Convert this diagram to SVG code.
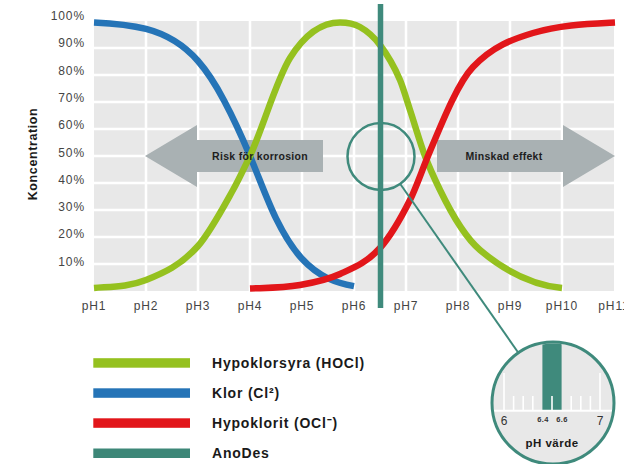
<svg xmlns="http://www.w3.org/2000/svg" width="624" height="464" viewBox="0 0 624 464">
<defs>
<style>
.grid line{stroke:#fff;stroke-width:2.5}
.ax{font-family:"Liberation Sans",Arial,sans-serif;font-size:12px;fill:#444;letter-spacing:0.9px}
.yl{text-anchor:end}
.xl{text-anchor:middle}
.curve{fill:none;stroke-width:6.5;stroke-linecap:butt;stroke-linejoin:round}
.arrow{fill:#a9b1b3}
.atxt{font-family:"Liberation Sans",Arial,sans-serif;font-weight:bold;font-size:10.5px;fill:#1e1e1e;text-anchor:middle;letter-spacing:0.3px}
.leg{font-family:"Liberation Sans",Arial,sans-serif;font-weight:bold;font-size:14px;fill:#1a1a1a;letter-spacing:0.8px}
.tick{stroke:#fff;stroke-width:1.6}
</style>
<clipPath id="lens"><circle cx="553" cy="403" r="59.5"/></clipPath>
</defs>

<g id="plot-background">
<rect x="94" y="21" width="520" height="270" fill="#e8e8e8"/>
<g class="grid">
<line x1="146" y1="21" x2="146" y2="291"/><line x1="198" y1="21" x2="198" y2="291"/><line x1="250" y1="21" x2="250" y2="291"/>
<line x1="302" y1="21" x2="302" y2="291"/><line x1="354" y1="21" x2="354" y2="291"/><line x1="406" y1="21" x2="406" y2="291"/>
<line x1="458" y1="21" x2="458" y2="291"/><line x1="510" y1="21" x2="510" y2="291"/><line x1="562" y1="21" x2="562" y2="291"/>
<line x1="94" y1="48" x2="614" y2="48"/><line x1="94" y1="75" x2="614" y2="75"/><line x1="94" y1="102" x2="614" y2="102"/>
<line x1="94" y1="129" x2="614" y2="129"/><line x1="94" y1="156" x2="614" y2="156"/><line x1="94" y1="183" x2="614" y2="183"/>
<line x1="94" y1="210" x2="614" y2="210"/><line x1="94" y1="237" x2="614" y2="237"/><line x1="94" y1="264" x2="614" y2="264"/>
</g>
</g>

<g id="y-axis" class="ax yl">
<text x="85" y="20">100%</text><text x="85" y="47.3">90%</text><text x="85" y="74.6">80%</text>
<text x="85" y="101.9">70%</text><text x="85" y="129.2">60%</text><text x="85" y="156.5">50%</text>
<text x="85" y="183.8">40%</text><text x="85" y="211.1">30%</text><text x="85" y="238.4">20%</text>
<text x="85" y="265.7">10%</text>
<text transform="translate(37,154) rotate(-90)" style="font-weight:bold;font-size:12.5px;fill:#1a1a1a;text-anchor:middle;letter-spacing:0.6px">Koncentration</text>
</g>

<g id="x-axis" class="ax xl">
<text x="94" y="309.5">pH1</text><text x="146" y="309.5">pH2</text><text x="198" y="309.5">pH3</text>
<text x="250" y="309.5">pH4</text><text x="302" y="309.5">pH5</text><text x="354" y="309.5">pH6</text>
<text x="406" y="309.5">pH7</text><text x="458" y="309.5">pH8</text><text x="510" y="309.5">pH9</text>
<text x="562" y="309.5">pH10</text><text x="614" y="309.5">pH11</text>
</g>

<g id="arrow-risk">
<polygon class="arrow" points="145,156 197,125 197,140 323,140 323,172 197,172 197,187"/>
</g>
<g id="arrow-minskad">
<polygon class="arrow" points="615,156 563,125 563,140 437,140 437,172 563,172 563,187"/>
</g>

<g id="curves">
<path id="klor" class="curve" stroke="#2574b7" d="M94,22.4 C111.3,23.2 128.7,24.4 146,28.9 C163.3,33.4 180.7,41.2 198,61 C206.7,70.9 215.3,84 224,100.4 C232.7,116.8 241.3,135.2 250,156 C258.7,176.8 267.3,200.7 276,218.4 C284.7,236.1 293.3,249.4 302,258.8 C319.3,277.7 336.7,282.9 354,286.1"/>
<path id="hypoklorsyra" class="curve" stroke="#95c11f" d="M94,288 C111.3,286.6 128.7,286.9 146,280 C163.3,273.1 180.7,265.6 198,246 C209.7,232.8 221.3,211 233,190 C238.7,179.8 244.3,167.7 250,156 C263.3,126.7 276.7,79.3 290,58 C306.7,31.3 323.3,22.5 340,22.5 C346.7,22.5 353.3,23.3 360,27 C366.7,30.7 373.3,36.1 380,45 C386.7,53.9 393.3,64.2 400,80 C403.3,87.9 406.7,99.9 410,110 C415,125.2 420,142.7 425,156 C430,169.4 435,179.7 440,190 C453.3,217.5 466.7,238.7 480,250 C507.3,273.2 534.7,285.3 562,288"/>
<path id="hypoklorit" class="curve" stroke="#e2161a" d="M250,288.5 C266.7,287.8 283.3,287.8 300,285 C313.3,282.7 326.7,280.1 340,274 C353.3,267.9 366.7,262.9 380,248 C390,236.8 400,220 410,200 C416,188 422,170.4 428,156 C443,120 458,82.75 473,67 C493,46 513,39 533,33 C560.3,24.8 587.7,23.9 615,22.5"/>
</g>

<g id="arrow-labels">
<text class="atxt" x="260" y="159.5">Risk för korrosion</text>
<text class="atxt" x="504" y="159.5">Minskad effekt</text>
</g>

<g id="anodes-line">
<line x1="380.5" y1="4" x2="380.5" y2="308" stroke="#3f8a7c" stroke-width="5.5"/>
</g>

<g id="connectors">
<circle cx="381" cy="156.5" r="33.5" fill="none" stroke="#3f8a7c" stroke-width="2.5"/>
<line x1="400.1" y1="183.8" x2="518.5" y2="353" stroke="#3f8a7c" stroke-width="2"/>
</g>

<g id="ph-lens">
<circle cx="553" cy="403" r="61" fill="#e8e8e8"/>
<g clip-path="url(#lens)">
<rect x="542.4" y="330" width="19.2" height="80.5" fill="#3f8a7c"/>
<line class="tick" x1="504" y1="373" x2="504" y2="410"/>
<line class="tick" x1="600" y1="373" x2="600" y2="410"/>
<line class="tick" x1="513.6" y1="396" x2="513.6" y2="410"/>
<line class="tick" x1="523.2" y1="396" x2="523.2" y2="410"/>
<line class="tick" x1="532.8" y1="396" x2="532.8" y2="410"/>
<line class="tick" x1="552" y1="396" x2="552" y2="410"/>
<line class="tick" x1="571.2" y1="396" x2="571.2" y2="410"/>
<line class="tick" x1="580.8" y1="396" x2="580.8" y2="410"/>
<line class="tick" x1="590.4" y1="396" x2="590.4" y2="410"/>
<line x1="488" y1="410.8" x2="618" y2="410.8" stroke="#fff" stroke-width="2"/>
</g>
<circle cx="553" cy="403" r="61" fill="none" stroke="#3f8a7c" stroke-width="3"/>
<g font-family="Liberation Sans, Arial, sans-serif" fill="#333" text-anchor="middle">
<text x="504" y="425" font-size="12">6</text>
<text x="600" y="425" font-size="12">7</text>
<text x="543" y="422.3" font-size="7.5" font-weight="bold" letter-spacing="0.3">6.4</text>
<text x="562" y="422.3" font-size="7.5" font-weight="bold" letter-spacing="0.3">6.6</text>
<text x="552" y="446.5" font-size="11.5" font-weight="bold" fill="#1a1a1a" letter-spacing="0.5">pH värde</text>
</g>
</g>

<g id="legend">
<g id="legend-hocl"><rect x="93.3" y="358.2" width="96.7" height="9.5" fill="#95c11f"/><text class="leg" x="212" y="368.3">Hypoklorsyra (HOCl)</text></g>
<g id="legend-cl2"><rect x="93.3" y="388.3" width="96.7" height="9.5" fill="#2574b7"/><text class="leg" x="212" y="398.3">Klor (Cl²)</text></g>
<g id="legend-ocl"><rect x="93.3" y="418.3" width="96.7" height="9.5" fill="#e2161a"/><text class="leg" x="212" y="428.3">Hypoklorit (OCl⁻)</text></g>
<g id="legend-anodes"><rect x="93.3" y="448.5" width="96.7" height="9.5" fill="#3d8778"/><text class="leg" x="212" y="458.3">AnoDes</text></g>
</g>
</svg>
